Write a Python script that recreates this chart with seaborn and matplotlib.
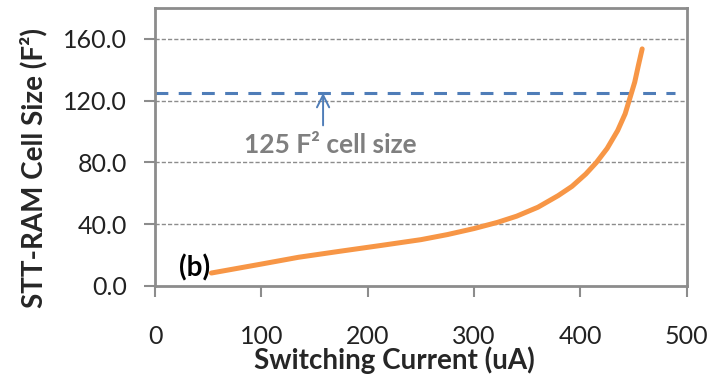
import matplotlib
matplotlib.use("Agg")
import matplotlib.pyplot as plt
import seaborn as sns
import pandas as pd

# Switching current (uA) and resulting STT-RAM cell size (F^2)
switching_current = [53, 100, 135, 175, 213, 250, 275, 300, 322, 340, 360,
                     379, 392, 405, 415, 425, 435, 442, 446, 451, 454.5, 458]
cell_size = [8.4, 14.2, 18.6, 22.6, 26.3, 30.0, 33.3, 37.2, 41.2, 45.2, 51,
             58.5, 64.5, 72.5, 80, 89, 100.7, 111.5, 120.6, 132, 143, 153.5]

# Reference cell size marked by the dashed line
target_size = 125
line_span = [0, 489]

x_ticks = [0, 100, 200, 300, 400, 500]
y_ticks = [0, 40, 80, 120, 160]

sns.set_style("white")
plt.rcParams["font.family"] = ["Lato", "DejaVu Sans"]

df = pd.DataFrame({"current": switching_current, "size": cell_size})

fig = plt.figure(figsize=(7.23, 3.80), dpi=100)
ax = fig.add_axes([0.2144, 0.2474, 0.7356, 0.7316])

# horizontal grid
for yv in y_ticks[1:]:
    ax.axhline(yv, color="#8c8c8c", lw=1.0, ls=(0, (3, 1.5)), zorder=1)

# target size line
ax.plot(line_span, [target_size, target_size], color="#4F7DB8", lw=2.2,
        dashes=(4.2, 3.4), zorder=2, solid_capstyle="butt")

sns.lineplot(data=df, x="current", y="size", ax=ax, color="#F79646",
             lw=3.6, zorder=3, estimator=None, sort=False,
             solid_capstyle="round", solid_joinstyle="round")

ax.annotate("", xy=(158, target_size), xytext=(158, 104),
            arrowprops=dict(arrowstyle="->", color="#4F7DB8", lw=1.4,
                            mutation_scale=22, shrinkA=0, shrinkB=0), zorder=4)
ax.text(84, 91, f"{target_size} F² cell size", color="#7f7f7f",
        fontsize=19, fontweight="bold", ha="left", va="center")
ax.text(52, 12, "(b)", color="black", fontsize=20, fontweight="bold",
        ha="right", va="center")

ax.set_xlim(0, 500)
ax.set_ylim(0, 180)
ax.set_xticks(x_ticks)
ax.set_yticks(y_ticks)
ax.set_yticklabels([f"{v:.1f}" for v in y_ticks])
ax.tick_params(axis="both", labelsize=18, colors="#8c8c8c", labelcolor="#222222",
               length=8, width=1.5, direction="out")
ax.tick_params(axis="x", pad=20)
ax.tick_params(axis="y", pad=12)
ax.tick_params(bottom=True, left=True)

for sp in ax.spines.values():
    sp.set_visible(True)
    sp.set_color("#8c8c8c")
    sp.set_linewidth(2.0)

ax.set_xlabel("Switching Current (uA)", fontsize=20, fontweight="bold")
ax.set_ylabel("STT-RAM Cell Size (F²)", fontsize=20, fontweight="bold")
ax.xaxis.set_label_coords(0.451, -0.268)
ax.xaxis.label.set_va("center")
ax.yaxis.set_label_coords(-0.229, 0.424)
ax.yaxis.label.set_va("center")

fig.savefig("out.png", dpi=100)
